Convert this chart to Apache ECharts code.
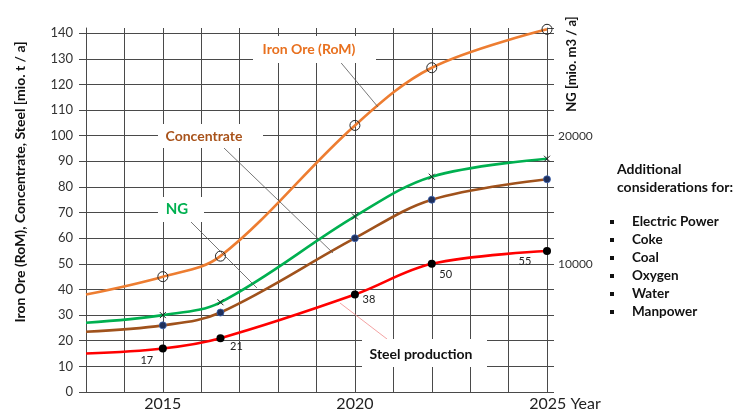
<!DOCTYPE html>
<html><head><meta charset="utf-8">
<script src="https://cdn.jsdelivr.net/npm/echarts@6/dist/echarts.min.js"></script>
<style>html,body{margin:0;padding:0;background:#fff}#c{width:740px;height:412px}</style>
</head><body><div id="c"></div>
<script>
// ---- data ----
const years = [2013, 2015, 2016.5, 2020, 2022, 2025];
const ironOre = [38, 45, 53, 104, 126.5, 141.5];
const ngGas = [5400, 6000, 7000, 13700, 16800, 18200];      // mio. m3 / a (right axis)
const concentrate = [23.5, 26, 31, 60, 75, 83];
const steel = [15, 17, 21, 38, 50, 55];
const xTickLabels = { 2015: '2015', 2020: '2020', 2025: '2025 Year' };
const rightTickLabels = [10000, 20000];
const notes = ['Electric Power', 'Coke', 'Coal', 'Oxygen', 'Water', 'Manpower'];

// ---- layout / style ----
const FONT = 'Lato';
const GRID = '#4a4a4a';
const steelLabelPos = [null, [-16, 12], [16, 8], [14, 5], [14, 11], [-22, 10]];

function pairs(vals) { return years.map((y, i) => [y, vals[i]]); }

const chart = echarts.init(document.getElementById('c'));
const option = {
  animation: false,
  textStyle: { fontFamily: FONT },
  grid: { left: 86, right: 193, top: 28, bottom: 20 },
  xAxis: {
    type: 'value', min: 2013, max: 2025, interval: 1,
    axisLine: { show: true, lineStyle: { color: GRID } },
    axisTick: { show: false },
    splitLine: { show: true, lineStyle: { color: GRID, width: 1 } },
    axisLabel: {
      margin: 4, fontSize: 16, color: '#222', fontFamily: FONT,
      formatter: v => v === 2025 ? '{sp|}{t|' + xTickLabels[v] + '}' : (xTickLabels[v] || ''),
      rich: { sp: { width: 36 }, t: { fontSize: 16, color: '#222', fontFamily: FONT } }
    }
  },
  yAxis: [{
    type: 'value', min: 0, max: 142, interval: 10,
    axisLine: { show: true, lineStyle: { color: GRID } },
    axisTick: { show: true, length: 7, lineStyle: { color: GRID } },
    splitLine: { show: true, showMaxLine: false, lineStyle: { color: GRID, width: 1 } },
    axisLabel: { showMaxLabel: false, fontSize: 13, color: '#333', margin: 13, fontFamily: FONT }
  }, {
    type: 'value', min: 0, max: 28400, interval: 2000, position: 'right',
    axisLine: { show: true, lineStyle: { color: GRID } },
    axisTick: { show: true, length: 7, lineStyle: { color: GRID } },
    splitLine: { show: false },
    axisLabel: {
      fontSize: 12, color: '#333', margin: 11, fontFamily: FONT,
      formatter: v => rightTickLabels.includes(v) ? String(v) : ''
    }
  }],
  series: [
    {
      name: 'Iron Ore (RoM)', type: 'line', smooth: 0.35, data: pairs(ironOre),
      symbol: (v, p) => p.dataIndex === 0 ? 'none' : 'circle', symbolSize: 10,
      lineStyle: { color: '#ED7D31', width: 2.6 },
      itemStyle: { color: 'rgba(0,0,0,0)', borderColor: '#222', borderWidth: 1 }, z: 3
    },
    {
      name: 'NG', type: 'line', smooth: 0.35, yAxisIndex: 1, data: pairs(ngGas),
      symbol: (v, p) => p.dataIndex === 0 ? 'none' : 'path://M0,0L10,10M10,0L0,10', symbolSize: 6,
      lineStyle: { color: '#00B050', width: 2.6 },
      itemStyle: { color: 'rgba(0,0,0,0)', borderColor: '#222', borderWidth: 1 }, z: 3
    },
    {
      name: 'Concentrate', type: 'line', smooth: 0.35, data: pairs(concentrate),
      symbol: (v, p) => p.dataIndex === 0 ? 'none' : 'circle', symbolSize: 7,
      lineStyle: { color: '#A0521C', width: 2.6 },
      itemStyle: { color: '#1f2f5a', borderColor: '#3b62b0', borderWidth: 0.8 }, z: 3
    },
    {
      name: 'Steel production', type: 'line', smooth: 0.35, data: pairs(steel),
      symbol: (v, p) => p.dataIndex === 0 ? 'none' : 'circle', symbolSize: 8,
      lineStyle: { color: '#FF0000', width: 2.6 },
      itemStyle: { color: '#000' }, z: 3,
      label: {
        show: true, fontSize: 11, color: '#222', fontFamily: FONT,
        formatter: p => p.dataIndex === 0 ? '' : String(p.value[1]),
        position: 'inside'
      },
      labelLayout: p => {
        const o = steelLabelPos[p.dataIndex];
        return o ? { dx: o[0], dy: o[1] } : {};
      }
    }
  ],
  graphic: [
    // leader lines
    { type: 'line', shape: { x1: 337, y1: 58, x2: 378, y2: 107 }, style: { stroke: '#555', lineWidth: 0.8 }, z: 10 },
    { type: 'line', shape: { x1: 224, y1: 148, x2: 333, y2: 253 }, style: { stroke: '#555', lineWidth: 0.8 }, z: 10 },
    { type: 'line', shape: { x1: 191, y1: 222, x2: 257, y2: 288 }, style: { stroke: '#555', lineWidth: 0.8 }, z: 10 },
    { type: 'line', shape: { x1: 340, y1: 303, x2: 387, y2: 339 }, style: { stroke: '#f08a8a', lineWidth: 0.8 }, z: 10 },
    // label boxes
    { type: 'rect', shape: { x: 253, y: 36, width: 123, height: 27 }, style: { fill: '#fff' }, z: 11 },
    { type: 'text', x: 309, y: 49, style: { text: 'Iron Ore (RoM)', fill: '#E8701E', font: 'bold 14px ' + FONT, align: 'center', verticalAlign: 'middle' }, z: 12 },
    { type: 'rect', shape: { x: 158, y: 124, width: 105, height: 24 }, style: { fill: '#fff' }, z: 11 },
    { type: 'text', x: 204, y: 136, style: { text: 'Concentrate', fill: '#A8521A', font: 'bold 14px ' + FONT, align: 'center', verticalAlign: 'middle' }, z: 12 },
    { type: 'rect', shape: { x: 158, y: 197, width: 46, height: 25 }, style: { fill: '#fff' }, z: 11 },
    { type: 'text', x: 177, y: 209, style: { text: 'NG', fill: '#00B050', font: 'bold 15px ' + FONT, align: 'center', verticalAlign: 'middle' }, z: 12 },
    { type: 'rect', shape: { x: 362, y: 339, width: 125, height: 28 }, style: { fill: '#fff' }, z: 11 },
    { type: 'text', x: 421, y: 354, style: { text: 'Steel production', fill: '#111', font: 'bold 14px ' + FONT, align: 'center', verticalAlign: 'middle' }, z: 12 },
    // axis titles
    { type: 'text', x: 20, y: 182, rotation: Math.PI / 2, style: { text: 'Iron Ore (RoM), Concentrate, Steel [mio. t / a]', fill: '#111', font: 'bold 14px ' + FONT, align: 'center', verticalAlign: 'middle' }, z: 12 },
    { type: 'text', x: 572, y: 64, rotation: Math.PI / 2, style: { text: 'NG [mio. m3 / a]', fill: '#111', font: 'bold 13px ' + FONT, align: 'center', verticalAlign: 'middle' }, z: 12 },
    // notes
    { type: 'text', x: 617, y: 160, style: { text: 'Additional\nconsiderations for:', fill: '#111', font: 'bold 14px ' + FONT, lineHeight: 18 }, z: 12 },
    ...notes.map((n, i) => ({ type: 'group', children: [
      { type: 'rect', shape: { x: 610, y: 220 + i * 18, width: 4, height: 4 }, style: { fill: '#111' } },
      { type: 'text', x: 632, y: 222 + i * 18, style: { text: n, fill: '#111', font: 'bold 13.5px ' + FONT, verticalAlign: 'middle' } }
    ] }))
  ]
};
chart.setOption(option);
</script>
</body></html>
